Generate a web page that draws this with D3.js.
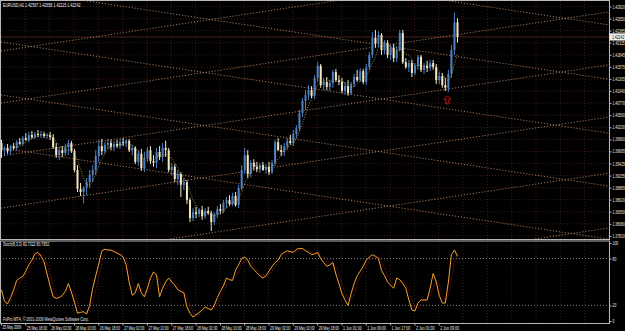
<!DOCTYPE html>
<html>
<head>
<meta charset="utf-8">
<script src="https://cdn.jsdelivr.net/npm/d3@7"></script>
<style>
  html, body { margin: 0; padding: 0; background: #000; }
  svg { display: block; font-family: "Liberation Sans", Arial, sans-serif; }
</style>
</head>
<body>
<svg id="chart" width="625" height="331"></svg>
<script>
// chart texts
const symbolTitle = 'EURUSD,H1  1.42567 1.42658 1.42115 1.42242';
const stochTitle  = 'Stoch(8,3,3) 82.7322 80.7952';
const brokerNote  = 'FxPro MT4, \u00a9 2001-2009 MetaQuotes Software Corp.';

// H1 bars, [open, high, low, close]
const ohlc = [
  [1.3988, 1.3995, 1.3955, 1.3972], [1.3972, 1.3981, 1.3959, 1.3977], [1.3977, 1.3986, 1.3964, 1.3970],
  [1.3970, 1.3984, 1.3961, 1.3981], [1.3981, 1.3988, 1.3972, 1.3977], [1.3977, 1.3995, 1.3972, 1.3990],
  [1.3990, 1.3999, 1.3984, 1.3986], [1.3986, 1.4004, 1.3981, 1.3999], [1.3999, 1.4010, 1.3993, 1.3995],
  [1.3995, 1.4013, 1.3990, 1.4006], [1.4006, 1.4015, 1.3997, 1.4001], [1.4001, 1.4013, 1.3997, 1.4008],
  [1.4008, 1.4017, 1.4001, 1.4006], [1.4006, 1.4015, 1.3999, 1.4008], [1.4008, 1.4013, 1.3999, 1.4004],
  [1.4004, 1.4010, 1.3997, 1.4006], [1.4006, 1.4013, 1.3995, 1.4001], [1.4001, 1.4008, 1.3975, 1.3979],
  [1.3979, 1.3988, 1.3955, 1.3961], [1.3961, 1.3979, 1.3950, 1.3972], [1.3972, 1.3981, 1.3957, 1.3966],
  [1.3966, 1.3986, 1.3959, 1.3979], [1.3979, 1.3995, 1.3961, 1.3988], [1.3988, 1.3993, 1.3966, 1.3970],
  [1.3970, 1.3975, 1.3923, 1.3928], [1.3928, 1.3939, 1.3879, 1.3886], [1.3886, 1.3899, 1.3870, 1.3879],
  [1.3879, 1.3892, 1.3854, 1.3888], [1.3888, 1.3910, 1.3872, 1.3901], [1.3901, 1.3928, 1.3888, 1.3917],
  [1.3917, 1.3939, 1.3901, 1.3928], [1.3928, 1.3972, 1.3917, 1.3959], [1.3959, 1.3995, 1.3946, 1.3981],
  [1.3981, 1.3997, 1.3961, 1.3970], [1.3970, 1.3990, 1.3964, 1.3984], [1.3984, 1.3997, 1.3975, 1.3988],
  [1.3988, 1.3995, 1.3972, 1.3979], [1.3979, 1.3993, 1.3970, 1.3986], [1.3986, 1.3995, 1.3977, 1.3981],
  [1.3981, 1.3997, 1.3975, 1.3990], [1.3990, 1.3999, 1.3981, 1.3988], [1.3988, 1.3997, 1.3979, 1.3993],
  [1.3993, 1.3997, 1.3968, 1.3972], [1.3972, 1.3984, 1.3961, 1.3977], [1.3977, 1.3981, 1.3941, 1.3946],
  [1.3946, 1.3972, 1.3937, 1.3964], [1.3964, 1.3975, 1.3926, 1.3932], [1.3932, 1.3968, 1.3923, 1.3955],
  [1.3955, 1.3979, 1.3946, 1.3972], [1.3972, 1.3981, 1.3941, 1.3948], [1.3948, 1.3961, 1.3935, 1.3944],
  [1.3944, 1.3977, 1.3932, 1.3968], [1.3968, 1.3981, 1.3950, 1.3957], [1.3957, 1.3988, 1.3946, 1.3977],
  [1.3977, 1.3993, 1.3957, 1.3972], [1.3972, 1.3977, 1.3923, 1.3928], [1.3928, 1.3944, 1.3915, 1.3935],
  [1.3935, 1.3941, 1.3901, 1.3908], [1.3908, 1.3928, 1.3895, 1.3919], [1.3919, 1.3923, 1.3868, 1.3895],
  [1.3895, 1.3910, 1.3883, 1.3901], [1.3901, 1.3906, 1.3852, 1.3861], [1.3861, 1.3866, 1.3812, 1.3821],
  [1.3821, 1.3843, 1.3814, 1.3834], [1.3834, 1.3846, 1.3821, 1.3830], [1.3830, 1.3843, 1.3823, 1.3839],
  [1.3839, 1.3848, 1.3817, 1.3825], [1.3825, 1.3843, 1.3819, 1.3837], [1.3837, 1.3846, 1.3828, 1.3832],
  [1.3832, 1.3837, 1.3792, 1.3812], [1.3812, 1.3834, 1.3805, 1.3828], [1.3828, 1.3848, 1.3821, 1.3841],
  [1.3841, 1.3852, 1.3830, 1.3837], [1.3837, 1.3861, 1.3832, 1.3854], [1.3854, 1.3868, 1.3843, 1.3861],
  [1.3861, 1.3872, 1.3848, 1.3852], [1.3852, 1.3877, 1.3848, 1.3870], [1.3870, 1.3879, 1.3846, 1.3850],
  [1.3850, 1.3895, 1.3843, 1.3888], [1.3888, 1.3939, 1.3883, 1.3928], [1.3928, 1.3977, 1.3919, 1.3961],
  [1.3961, 1.3972, 1.3910, 1.3919], [1.3919, 1.3950, 1.3912, 1.3944], [1.3944, 1.3952, 1.3928, 1.3935],
  [1.3935, 1.3946, 1.3923, 1.3930], [1.3930, 1.3944, 1.3921, 1.3939], [1.3939, 1.3946, 1.3926, 1.3928],
  [1.3928, 1.3941, 1.3919, 1.3935], [1.3935, 1.3946, 1.3917, 1.3923], [1.3923, 1.3950, 1.3919, 1.3944],
  [1.3944, 1.3995, 1.3937, 1.3990], [1.3990, 1.3999, 1.3970, 1.3972], [1.3972, 1.3984, 1.3959, 1.3968],
  [1.3968, 1.3988, 1.3959, 1.3981], [1.3981, 1.3999, 1.3972, 1.3993], [1.3993, 1.4006, 1.3984, 1.3988],
  [1.3988, 1.4017, 1.3981, 1.4008], [1.4008, 1.4028, 1.3999, 1.4021], [1.4021, 1.4062, 1.4015, 1.4055],
  [1.4055, 1.4088, 1.4046, 1.4082], [1.4082, 1.4106, 1.4062, 1.4095], [1.4095, 1.4117, 1.4084, 1.4106],
  [1.4106, 1.4115, 1.4088, 1.4093], [1.4093, 1.4139, 1.4086, 1.4133], [1.4133, 1.4168, 1.4124, 1.4160],
  [1.4160, 1.4164, 1.4111, 1.4117], [1.4117, 1.4133, 1.4106, 1.4124], [1.4124, 1.4135, 1.4106, 1.4113],
  [1.4113, 1.4128, 1.4104, 1.4122], [1.4122, 1.4151, 1.4111, 1.4146], [1.4146, 1.4153, 1.4124, 1.4128],
  [1.4128, 1.4139, 1.4117, 1.4124], [1.4124, 1.4133, 1.4099, 1.4104], [1.4104, 1.4124, 1.4095, 1.4115],
  [1.4115, 1.4128, 1.4093, 1.4099], [1.4099, 1.4124, 1.4095, 1.4119], [1.4119, 1.4142, 1.4113, 1.4135],
  [1.4135, 1.4151, 1.4124, 1.4128], [1.4128, 1.4155, 1.4124, 1.4148], [1.4148, 1.4153, 1.4119, 1.4124],
  [1.4124, 1.4164, 1.4117, 1.4157], [1.4157, 1.4191, 1.4151, 1.4184], [1.4184, 1.4235, 1.4177, 1.4222],
  [1.4222, 1.4240, 1.4200, 1.4209], [1.4209, 1.4237, 1.4202, 1.4229], [1.4229, 1.4233, 1.4184, 1.4195],
  [1.4195, 1.4217, 1.4186, 1.4211], [1.4211, 1.4217, 1.4177, 1.4184], [1.4184, 1.4206, 1.4173, 1.4200],
  [1.4200, 1.4209, 1.4168, 1.4177], [1.4177, 1.4204, 1.4168, 1.4195], [1.4195, 1.4240, 1.4191, 1.4233],
  [1.4233, 1.4240, 1.4164, 1.4168], [1.4168, 1.4177, 1.4153, 1.4157], [1.4157, 1.4173, 1.4146, 1.4166],
  [1.4166, 1.4173, 1.4135, 1.4144], [1.4144, 1.4166, 1.4139, 1.4160], [1.4160, 1.4184, 1.4151, 1.4180],
  [1.4180, 1.4184, 1.4146, 1.4151], [1.4151, 1.4166, 1.4142, 1.4160], [1.4160, 1.4171, 1.4146, 1.4155],
  [1.4155, 1.4173, 1.4148, 1.4166], [1.4166, 1.4173, 1.4151, 1.4157], [1.4157, 1.4164, 1.4119, 1.4128],
  [1.4128, 1.4146, 1.4119, 1.4137], [1.4137, 1.4144, 1.4111, 1.4117], [1.4117, 1.4133, 1.4104, 1.4111],
  [1.4111, 1.4151, 1.4102, 1.4142], [1.4142, 1.4206, 1.4133, 1.4195], [1.4195, 1.4278, 1.4184, 1.4257],
  [1.42567, 1.42658, 1.42115, 1.42242]
];

// Stochastic %K, one value per bar
const stochMain = [
  40, 25, 22, 30, 40, 52, 55, 57, 64, 72, 78, 86, 88, 83, 76, 60, 45, 31, 29, 30,
  33, 38, 48, 37, 24, 10, 11, 12, 9, 20, 42, 58, 73, 90, 92, 91, 91, 89, 87, 85,
  82, 72, 50, 33, 36, 48, 36, 31, 42, 55, 63, 59, 31, 42, 50, 55, 50, 46, 40, 38,
  36, 18, 10, 5, 8, 11, 14, 18, 16, 14, 20, 30, 38, 45, 55, 53, 52, 65, 72, 80,
  82, 78, 70, 66, 62, 58, 55, 58, 64, 70, 75, 78, 85, 88, 90, 89, 88, 92, 93, 93,
  90, 88, 85, 86, 88, 80, 75, 70, 72, 75, 60, 48, 35, 27, 20, 35, 48, 58, 64, 70,
  78, 82, 85, 83, 80, 65, 58, 50, 46, 42, 55, 53, 48, 42, 27, 14, 13, 23, 27, 27,
  27, 42, 61, 50, 33, 23, 23, 50, 85, 91, 83
];

const timeLabels = [
  '25 May 2009', '25 May 18:00', '26 May 02:00', '26 May 10:00', '26 May 18:00',
  '27 May 02:00', '27 May 10:00', '27 May 18:00', '28 May 02:00', '28 May 10:00',
  '28 May 18:00', '29 May 02:00', '29 May 10:00', '29 May 18:00', '1 Jun 01:00',
  '1 Jun 09:00', '1 Jun 17:00', '2 Jun 01:00', '2 Jun 09:00'
];
const priceTicks = [
  1.42920, 1.42650, 1.42385, 1.42115, 1.41845, 1.41575, 1.41305, 1.41040, 1.40770, 1.40500,
  1.40230, 1.39960, 1.39695, 1.39425, 1.39155, 1.38885, 1.38620, 1.38350, 1.38080, 1.37810
];
const stochTicks  = [0, 20, 80, 100];
const stochLevels = [20, 80];

// drawn trend grid: price of each line at bar 0, drifting by lineDrift over 200 bars
const risingLines  = [1.4193, 1.4077, 1.3959, 1.3843, 1.3718, 1.3596];
const fallingLines = [1.4454, 1.4333, 1.4213, 1.4095, 1.3977];
const lineDrift    = 0.0203;
const arrowBar     = 147;

const barsOnScreen = 200;
const maPeriod     = 5;

const svg = d3.select('#chart');
svg.append('rect').attr('width', 625).attr('height', 331).attr('fill', '#000');

const x  = d3.scaleLinear().domain([0, barsOnScreen]).range([1, 609]);
const y  = d3.scaleLinear().domain([1.37810, 1.42920]).range([236, 6.5]);
const ys = d3.scaleLinear().domain([0, 100]).range([321, 243]);

const gridColor  = '#4a2218';
const frameColor = '#b8b8b8';
const fontSize   = 4.8;

// MT4 uses a narrow small font: squeeze each label horizontally around its left edge
const fit = (sel, perChar) => sel.each(function () {
  const node = this;
  const natural = node.getComputedTextLength();
  if (!natural) return;
  const s = Math.min(1, node.textContent.length * perChar / natural);
  const x0 = +(node.getAttribute('x') || 0);
  d3.select(node).attr('transform', `translate(${x0},0) scale(${s},1) translate(${-x0},0)`);
});

svg.append('clipPath').attr('id', 'mainClip')
  .append('rect').attr('x', 0).attr('y', 0).attr('width', 609).attr('height', 239);
svg.append('clipPath').attr('id', 'stochClip')
  .append('rect').attr('x', 0).attr('y', 241).attr('width', 609).attr('height', 82);

// grid
const gridBars = d3.range(0, barsOnScreen + 1, 8);
const gridG = svg.append('g');
gridG.selectAll('line.v').data(gridBars).join('line')
  .attr('x1', d => x(d)).attr('x2', d => x(d))
  .attr('y1', 1).attr('y2', 323)
  .attr('stroke', gridColor).attr('stroke-width', 0.8).attr('stroke-dasharray', '1,2');
gridG.selectAll('line.h').data(priceTicks).join('line')
  .attr('x1', 0).attr('x2', 609)
  .attr('y1', d => y(d)).attr('y2', d => y(d))
  .attr('stroke', gridColor).attr('stroke-width', 0.8).attr('stroke-dasharray', '1,2');

const mainG = svg.append('g').attr('clip-path', 'url(#mainClip)');

// bid line
const lastClose = ohlc[ohlc.length - 1][3];
mainG.append('line')
  .attr('x1', 0).attr('x2', 609)
  .attr('y1', y(lastClose)).attr('y2', y(lastClose))
  .attr('stroke', '#5a2c22').attr('stroke-width', 0.8);

// trend grid lines
const trendG = mainG.append('g')
  .attr('stroke', '#d9a57d').attr('stroke-width', 0.8)
  .attr('stroke-dasharray', '1.2,1.8').attr('opacity', 0.9);
trendG.selectAll('line.up').data(risingLines).join('line')
  .attr('x1', x(0)).attr('y1', d => y(d))
  .attr('x2', x(barsOnScreen)).attr('y2', d => y(d + lineDrift));
trendG.selectAll('line.down').data(fallingLines).join('line')
  .attr('x1', x(0)).attr('y1', d => y(d))
  .attr('x2', x(barsOnScreen)).attr('y2', d => y(d - lineDrift));

// candles
const bullColor = '#4f80c0';
const bearColor = '#f3e6c4';
const candles = mainG.append('g').selectAll('g').data(ohlc).join('g');
candles.append('line')
  .attr('x1', (d, i) => x(i) + 0.5).attr('x2', (d, i) => x(i) + 0.5)
  .attr('y1', d => y(d[1])).attr('y2', d => y(d[2]))
  .attr('stroke', d => d[3] >= d[0] ? bullColor : bearColor).attr('stroke-width', 1);
candles.append('rect')
  .attr('x', (d, i) => x(i) - 0.5)
  .attr('width', 2)
  .attr('y', d => y(Math.max(d[0], d[3])))
  .attr('height', d => Math.max(1, Math.abs(y(d[0]) - y(d[3]))))
  .attr('fill', d => d[3] >= d[0] ? bullColor : bearColor);

// moving average of closes
const ma = ohlc.map((d, i) => i < maPeriod - 1 ? null
  : d3.mean(ohlc.slice(i - maPeriod + 1, i + 1), b => b[3]));
mainG.append('path')
  .datum(ma)
  .attr('fill', 'none')
  .attr('stroke', '#b8ae5c').attr('stroke-width', 0.8).attr('stroke-dasharray', '1,1.5')
  .attr('d', d3.line().defined(d => d !== null).x((d, i) => x(i) + 0.5).y(d => y(d)));

// buy arrow
const arrowLow = ohlc[arrowBar][2];
mainG.append('path')
  .attr('transform', `translate(${x(arrowBar) - 0.5},${y(arrowLow) + 4})`)
  .attr('d', 'M0,0 L3.5,3.5 L1.5,3.5 L1.5,8 L-1.5,8 L-1.5,3.5 L-3.5,3.5 Z')
  .attr('fill', 'none').attr('stroke', '#d01010').attr('stroke-width', 1);

// stochastic
const stochSignal = stochMain.map((d, i) => i < 2 ? null : d3.mean(stochMain.slice(i - 2, i + 1)));
const stochG = svg.append('g').attr('clip-path', 'url(#stochClip)');
stochG.selectAll('line.lvl').data(stochLevels).join('line')
  .attr('x1', 0).attr('x2', 609)
  .attr('y1', d => ys(d)).attr('y2', d => ys(d))
  .attr('stroke', '#a8a8a8').attr('stroke-width', 0.8).attr('stroke-dasharray', '1,2');
stochG.append('path')
  .datum(stochSignal)
  .attr('fill', 'none').attr('stroke', '#a01818').attr('stroke-width', 0.9)
  .attr('stroke-dasharray', '1,1.5')
  .attr('d', d3.line().defined(d => d !== null).x((d, i) => x(i) + 0.5).y(d => ys(d)));
stochG.append('path')
  .datum(stochMain)
  .attr('fill', 'none').attr('stroke', '#f5a431').attr('stroke-width', 1)
  .attr('stroke-linejoin', 'round')
  .attr('d', d3.line().x((d, i) => x(i) + 0.5).y(d => ys(d)));

// frames
svg.append('rect').attr('x', 0.5).attr('y', 0.5).attr('width', 609).attr('height', 239)
  .attr('fill', 'none').attr('stroke', frameColor).attr('stroke-width', 1);
svg.append('rect').attr('x', 0.5).attr('y', 241).attr('width', 609).attr('height', 82.5)
  .attr('fill', 'none').attr('stroke', frameColor).attr('stroke-width', 1);

// axes
const priceAxis = svg.append('g')
  .attr('transform', 'translate(609.5,0)')
  .call(d3.axisRight(y).tickValues(priceTicks).tickSize(2).tickPadding(1)
    .tickFormat(d3.format('.5f')));
const stochAxis = svg.append('g')
  .attr('transform', 'translate(609.5,0)')
  .call(d3.axisRight(ys).tickValues(stochTicks).tickSize(2).tickPadding(1));
const timeAxis = svg.append('g')
  .attr('transform', 'translate(0,323.5)')
  .call(d3.axisBottom(x).tickValues(timeLabels.map((t, k) => k * 8)).tickSize(2).tickPadding(0.6)
    .tickFormat((d, k) => timeLabels[k]));
[priceAxis, stochAxis, timeAxis].forEach(a => {
  a.select('.domain').remove();
  a.selectAll('line').attr('stroke', frameColor);
  a.selectAll('text').attr('fill', '#e8e8e8').attr('font-size', fontSize)
    .attr('font-family', '"Liberation Sans", Arial, sans-serif');
});
timeAxis.selectAll('text').attr('text-anchor', 'start').attr('x', 1);
fit(priceAxis.selectAll('text'), 1.76);
fit(stochAxis.selectAll('text'), 1.9);
fit(timeAxis.selectAll('text'), 1.7);

// current price box
const boxG = svg.append('g').attr('transform', `translate(609.5,${y(lastClose)})`);
boxG.append('rect').attr('x', 0).attr('y', -3.6).attr('width', 15.5).attr('height', 7.2).attr('fill', '#f0f0f0');
boxG.append('text').attr('x', 2.5).attr('y', 1.7).attr('font-size', fontSize).attr('fill', '#000')
  .text(d3.format('.5f')(lastClose))
  .call(fit, 1.76);

// captions
svg.append('text').attr('x', 3).attr('y', 7.5).attr('font-size', fontSize).attr('fill', '#f0f0f0')
  .text(symbolTitle).call(fit, 1.85);
svg.append('text').attr('x', 3).attr('y', 246.5).attr('font-size', fontSize).attr('fill', '#f0f0f0')
  .text(stochTitle).call(fit, 1.65);
svg.append('text').attr('x', 3).attr('y', 321).attr('font-size', fontSize).attr('fill', '#e0e0e0')
  .text(brokerNote).call(fit, 1.8);
</script>
</body>
</html>
